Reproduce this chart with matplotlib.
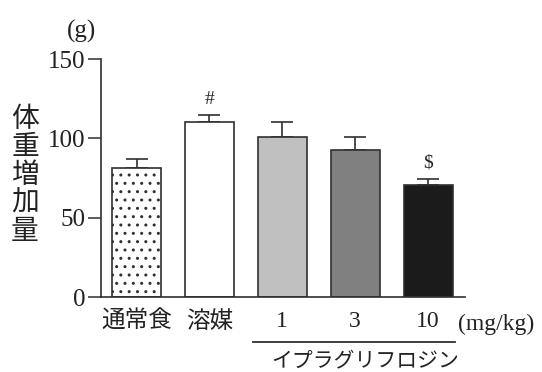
import matplotlib
matplotlib.use("Agg")
import matplotlib.pyplot as plt
import matplotlib.transforms as mtransforms

plt.rcParams['font.family'] = ['Liberation Serif', 'Noto Sans CJK JP']
plt.rcParams['hatch.linewidth'] = 1.0

# ---- data ----
categories = ["通常食", "溶媒", "1", "3", "10"]
values = [81, 110, 101, 92.5, 70.5]
errors = [6, 4.5, 9, 8.5, 4]
marks = ["", "#", "", "", "$"]
colors = ["white", "white", "#c0c0c0", "#808080", "#1b1b1b"]
hatches = ["..", "", "", "", ""]
yticks = [0, 50, 100, 150]
unit_label = "(g)"
dose_unit = "(mg/kg)"
ylabel = "体重増加量"
drug_label = "イプラグリフロジン"

W, H = 542, 372
fig = plt.figure(figsize=(W / 100, H / 100), dpi=100)
ax = fig.add_axes([101 / W, 1 - 297 / H, 364 / W, 238 / H])

edge = "#303030"
x = list(range(len(values)))
for i in x:
    ax.bar(i, values[i], width=0.67, color=colors[i], edgecolor=edge,
           linewidth=1.2, hatch=hatches[i] if hatches[i] else None, zorder=2)
ax.errorbar(x, values, yerr=[[0] * len(errors), errors], fmt="none",
            ecolor=edge, elinewidth=1.2, capsize=8, capthick=1.2, zorder=1)

for i in x:
    if marks[i]:
        ax.annotate(marks[i], (i, values[i] + errors[i]), xytext=(0, 5),
                    textcoords="offset points", ha="center", va="bottom",
                    fontsize=14, color="#222222")

ax.set_xlim(-0.487, 4.506)
ax.set_ylim(0, 150)
ax.set_yticks(yticks)
ax.set_yticklabels([str(t) for t in yticks], fontsize=18, color="#222222")
ax.set_xticks(x)
ax.set_xticklabels(categories, fontsize=17, color="#222222")
ax.tick_params(axis="y", length=9.5, width=1.1, color=edge, pad=2)
ax.tick_params(axis="x", length=0, pad=10)

for s in ["top", "right"]:
    ax.spines[s].set_visible(False)
for s in ["left", "bottom"]:
    ax.spines[s].set_color(edge)
    ax.spines[s].set_linewidth(1.2)

# unit labels
fig.text(82 / W, 1 - 31 / H, unit_label, fontsize=18, ha="center", va="center",
         color="#222222")
trans = mtransforms.blended_transform_factory(ax.transData, fig.transFigure)
fig.text(496 / W, 1 - 324 / H, dose_unit, fontsize=17, ha="center", va="center",
         color="#222222")

# y label (stacked vertical)
fig.text(25 / W, 1 - 176 / H, "\n".join(ylabel), fontsize=20, ha="center",
         va="center", linespacing=1.14, color="#222222")

# drug bracket
ax.plot([1.6, 4.37], [1 - 342 / H] * 2, transform=trans, color=edge,
        linewidth=1.3, clip_on=False)
ax.text(3.13, 1 - 362 / H, drug_label, transform=trans, fontsize=15,
        ha="center", va="center", color="#222222")

fig.savefig("out.png", dpi=100)
